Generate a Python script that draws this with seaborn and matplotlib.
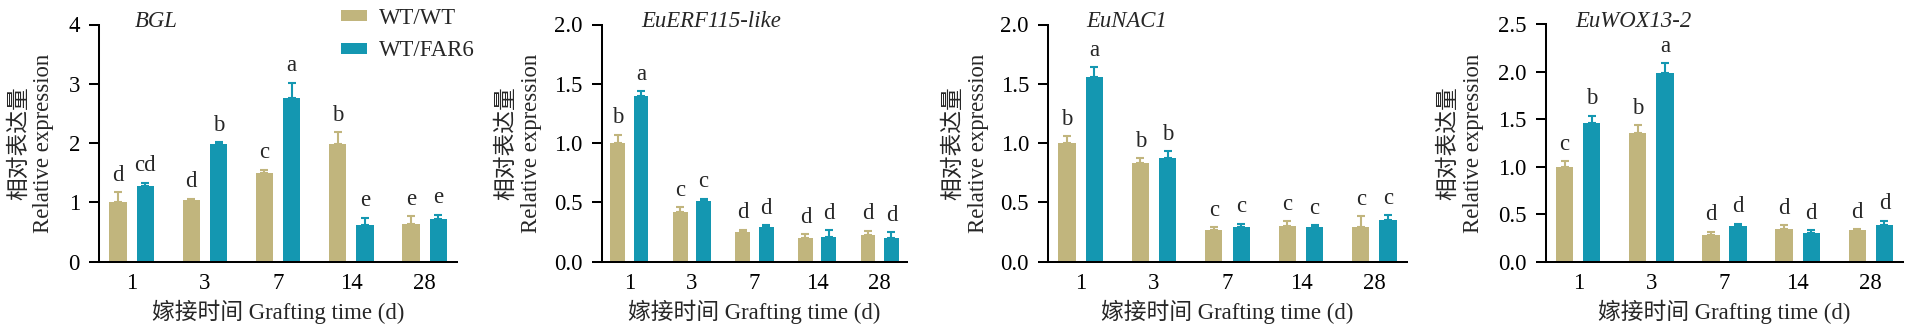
import matplotlib
matplotlib.use("Agg")
import matplotlib.pyplot as plt
import pandas as pd
import seaborn as sns

# grafting time points and graft combinations
days = ["1", "3", "7", "14", "28"]
groups = ["WT/WT", "WT/FAR6"]
genes = ["BGL", "EuERF115-like", "EuNAC1", "EuWOX13-2"]

# BGL
bgl_wt = [1.00, 1.03, 1.49, 1.98, 0.64]
bgl_far6 = [1.28, 1.98, 2.76, 0.61, 0.72]
bgl_wt_err = [0.17, 0.03, 0.06, 0.20, 0.12]
bgl_far6_err = [0.05, 0.04, 0.26, 0.13, 0.07]
bgl_wt_sig = ["d", "d", "c", "b", "e"]
bgl_far6_sig = ["cd", "b", "a", "e", "e"]

# EuERF115-like
erf_wt = [1.00, 0.42, 0.25, 0.20, 0.22]
erf_far6 = [1.40, 0.51, 0.29, 0.21, 0.20]
erf_wt_err = [0.07, 0.04, 0.02, 0.03, 0.04]
erf_far6_err = [0.04, 0.02, 0.015, 0.055, 0.045]
erf_wt_sig = ["b", "c", "d", "d", "d"]
erf_far6_sig = ["a", "c", "d", "d", "d"]

# EuNAC1
nac_wt = [1.00, 0.83, 0.27, 0.30, 0.29]
nac_far6 = [1.56, 0.87, 0.29, 0.29, 0.35]
nac_wt_err = [0.06, 0.04, 0.02, 0.04, 0.09]
nac_far6_err = [0.08, 0.06, 0.03, 0.02, 0.04]
nac_wt_sig = ["b", "b", "c", "c", "c"]
nac_far6_sig = ["a", "b", "c", "c", "c"]

# EuWOX13-2
wox_wt = [1.00, 1.36, 0.28, 0.34, 0.33]
wox_far6 = [1.46, 1.99, 0.37, 0.30, 0.39]
wox_wt_err = [0.06, 0.08, 0.035, 0.04, 0.015]
wox_far6_err = [0.08, 0.10, 0.03, 0.03, 0.04]
wox_wt_sig = ["c", "b", "d", "d", "d"]
wox_far6_sig = ["b", "a", "d", "d", "d"]

# y-axis ticks per panel
bgl_ticks = [0, 1, 2, 3, 4]
erf_ticks = [0.0, 0.5, 1.0, 1.5, 2.0]
nac_ticks = [0.0, 0.5, 1.0, 1.5, 2.0]
wox_ticks = [0.0, 0.5, 1.0, 1.5, 2.0, 2.5]
bgl_ticklabels = ["0", "1", "2", "3", "4"]
erf_ticklabels = ["0.0", "0.5", "1.0", "1.5", "2.0"]
nac_ticklabels = ["0.0", "0.5", "1.0", "1.5", "2.0"]
wox_ticklabels = ["0.0", "0.5", "1.0", "1.5", "2.0", "2.5"]

panels = [
    (bgl_wt, bgl_far6, bgl_wt_err, bgl_far6_err, bgl_wt_sig, bgl_far6_sig, bgl_ticks, bgl_ticklabels),
    (erf_wt, erf_far6, erf_wt_err, erf_far6_err, erf_wt_sig, erf_far6_sig, erf_ticks, erf_ticklabels),
    (nac_wt, nac_far6, nac_wt_err, nac_far6_err, nac_wt_sig, nac_far6_sig, nac_ticks, nac_ticklabels),
    (wox_wt, wox_far6, wox_wt_err, wox_far6_err, wox_wt_sig, wox_far6_sig, wox_ticks, wox_ticklabels),
]

palette = ["#C1B57D", "#1497B1"]

sns.set_theme(style="ticks")
plt.rcParams["font.family"] = ["Liberation Serif", "Noto Sans CJK SC"]
plt.rcParams["axes.unicode_minus"] = False

FS = 16.4
LW = 1.45
W_PX, H_PX = 1909, 333

fig = plt.figure(figsize=(W_PX / 100, H_PX / 100), dpi=100)

# axes placement: left edge and width in pixels
ax_left_px = [99.3, 601.7, 1048.3, 1546.0]
ax_width_px = [357.7, 305.6, 358.4, 357.0]
ax_top_px, ax_bottom_px = 24.5, 261.5
title_x = [0.100, 0.131, 0.107, 0.081]
ylabel_off_px = [67.8, 82.7, 82.3, 85.0]

for i, (gene, panel) in enumerate(zip(genes, panels)):
    wt, far6, wt_err, far6_err, wt_sig, far6_sig, ticks, ticklabels = panel
    rect = [ax_left_px[i] / W_PX, (H_PX - ax_bottom_px) / H_PX,
            ax_width_px[i] / W_PX, (ax_bottom_px - ax_top_px) / H_PX]
    ax = fig.add_axes(rect)

    df = pd.DataFrame({
        "day": days * 2,
        "group": [groups[0]] * len(days) + [groups[1]] * len(days),
        "value": list(wt) + list(far6),
    })
    sns.barplot(data=df, x="day", y="value", hue="group", order=days,
                hue_order=groups, palette=palette, saturation=1,
                width=0.745, gap=0.366, errorbar=None, linewidth=0,
                legend=(i == 0), ax=ax)

    # upward-only SE bars and significance letters above them
    bar_sets = list(ax.containers[:2])
    for bars, errs, sigs, color in zip(bar_sets, [wt_err, far6_err],
                                        [wt_sig, far6_sig], palette):
        for bar, e, s in zip(bars, errs, sigs):
            xc = bar.get_x() + bar.get_width() / 2
            h = bar.get_height()
            ax.errorbar(xc, h, yerr=[[0], [e]], fmt="none", ecolor=color,
                        elinewidth=1.5, capsize=3.2, capthick=1.5, zorder=3)
            ax.annotate(s, (xc, h + e), xytext=(0, 4.5),
                        textcoords="offset points", ha="center", va="bottom",
                        fontsize=FS)

    ax.set_xlim(-0.44, 4.44)
    ax.set_ylim(0, ticks[-1])
    ax.set_yticks(ticks)
    ax.set_yticklabels(ticklabels)
    sns.despine(ax=ax)
    for side in ("left", "bottom"):
        ax.spines[side].set_linewidth(LW)
        ax.spines[side].set_color("black")
    ax.tick_params(axis="y", length=7.2, width=LW, direction="out",
                   labelsize=FS, pad=6.7, colors="black")
    ax.tick_params(axis="x", length=0, labelsize=FS, pad=8.5, colors="black")

    ax.set_ylabel("相对表达量\nRelative expression", fontsize=FS,
                  va="center", ha="center", linespacing=1.2)
    ax.yaxis.set_label_coords(-ylabel_off_px[i] / ax_width_px[i], 0.5)
    ax.set_xlabel("嫁接时间 Grafting time (d)", fontsize=FS, va="center")
    ax.xaxis.set_label_coords(0.5, -50 / (ax_bottom_px - ax_top_px))

    ax.text(title_x[i], 1.012, gene, transform=ax.transAxes, style="italic",
            fontsize=FS, ha="left", va="center")

    if i == 0:
        handles, labels = ax.get_legend_handles_labels()
        ax.legend(handles, labels, loc="upper left",
                  bbox_to_anchor=(341 / W_PX, 1 - 7.5 / H_PX),
                  bbox_transform=fig.transFigure, frameon=False,
                  borderpad=0, borderaxespad=0, fontsize=FS,
                  handlelength=1.12, handleheight=0.37, handletextpad=0.53,
                  labelspacing=0.52)

fig.savefig("out.png", dpi=100)
